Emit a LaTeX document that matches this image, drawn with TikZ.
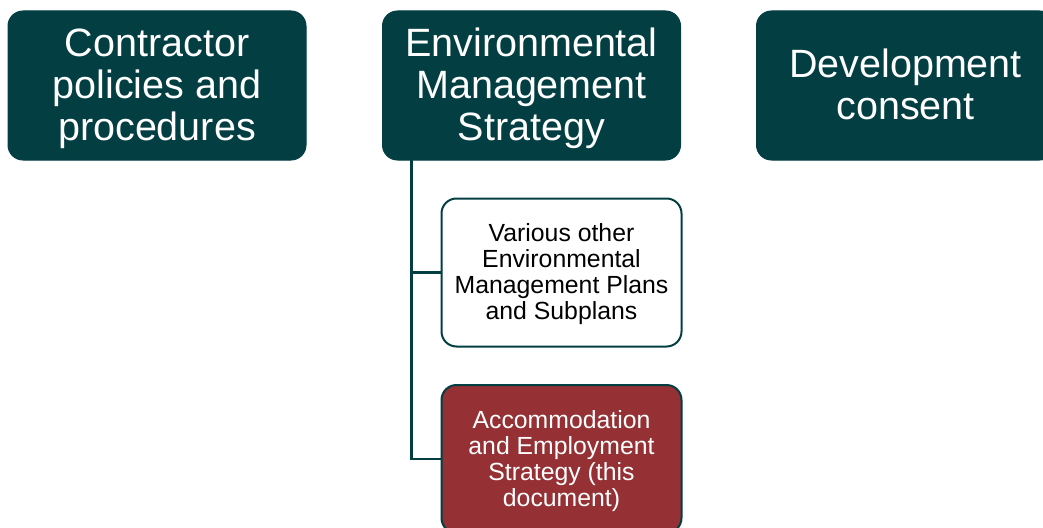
\documentclass[tikz,border=0pt]{standalone}
\usepackage{fontspec}
\setmainfont{Liberation Sans}
\definecolor{teal}{RGB}{2,62,66}
\definecolor{brick}{RGB}{149,48,52}
\begin{document}
\begin{tikzpicture}[x=1pt,y=-1pt,
  bigbox/.style={rectangle,rounded corners=15pt,fill=teal,draw=teal,line width=1pt,
    text=white,align=center,inner sep=0pt,minimum width=298pt,minimum height=149pt,
    font=\fontsize{39.5}{42}\selectfont},
  plainbox/.style={rectangle,rounded corners=15pt,fill=white,draw=teal,line width=2pt,
    text=black,align=center,inner sep=0pt,minimum width=240pt,minimum height=148pt,
    text height=100pt,font=\fontsize{24.8}{26}\selectfont},
  redbox/.style={plainbox,fill=brick,text=white},
  link/.style={draw=teal,line width=2.5pt}]
\useasboundingbox (0,0) rectangle (1043,527);
\clip (0,0) rectangle (1043,527);
\node[bigbox,text height=118pt] (contractor) at (157,85.5) {Contractor\\policies and\\procedures};
\node[bigbox,text height=118pt] (ems) at (531.5,85.5) {Environmental\\Management\\Strategy};
\node[bigbox,text height=68.5pt] (consent) at (905.5,85.5) {Development\\consent};
\node[plainbox] (plans) at (561.5,272.5) {Various other\\Environmental\\Management Plans\\and Subplans};
\node[redbox,text height=101pt] (aes) at (561.5,459) {Accommodation\\and Employment\\Strategy (this\\document)};
\coordinate (trunk) at (411.7,160);
\draw[link] (trunk) |- (plans.west);
\draw[link] (trunk) |- (aes.west);
\end{tikzpicture}
\end{document}
